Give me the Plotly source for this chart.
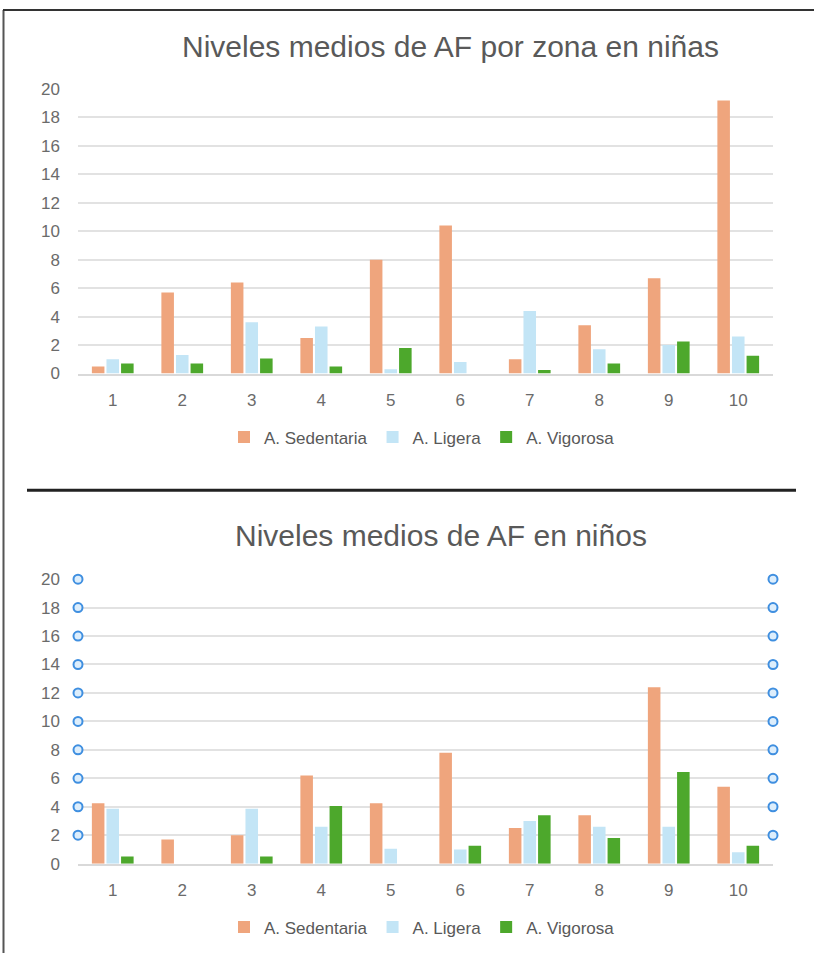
import plotly.graph_objects as go

zonas = ["1", "2", "3", "4", "5", "6", "7", "8", "9", "10"]
series_names = ["A. Sedentaria", "A. Ligera", "A. Vigorosa"]

ninas_sedentaria = [0.5, 5.7, 6.4, 2.5, 8.0, 10.4, 1.0, 3.4, 6.7, 19.2]
ninas_ligera = [1.0, 1.3, 3.6, 3.3, 0.3, 0.8, 4.4, 1.7, 2.0, 2.6]
ninas_vigorosa = [0.7, 0.7, 1.05, 0.5, 1.8, 0.0, 0.25, 0.7, 2.25, 1.25]

ninos_sedentaria = [4.25, 1.7, 2.0, 6.2, 4.25, 7.8, 2.5, 3.4, 12.4, 5.4]
ninos_ligera = [3.85, 0.0, 3.85, 2.6, 1.05, 1.0, 3.0, 2.6, 2.6, 0.8]
ninos_vigorosa = [0.5, 0.0, 0.5, 4.05, 0.0, 1.25, 3.4, 1.8, 6.45, 1.25]

y_ticks = [0, 2, 4, 6, 8, 10, 12, 14, 16, 18, 20]
handle_ticks = y_ticks[1:]

colors = ["#EFA57D", "#C3E5F6", "#4DA82C"]

W, H = 814, 963
TOP_PAD = 8      # page offset above the figure seen in the final picture
VSCALE = 0.982   # vertical compression seen in the final picture
FONT = "Liberation Sans, Arial, Helvetica, sans-serif"

fig = go.Figure()

top = [ninas_sedentaria, ninas_ligera, ninas_vigorosa]
bot = [ninos_sedentaria, ninos_ligera, ninos_vigorosa]

for name, vals, c in zip(series_names, top, colors):
    fig.add_trace(go.Bar(x=zonas, y=vals, name=name, marker=dict(color=c, line=dict(width=0)),
                         xaxis="x", yaxis="y", legend="legend"))
for name, vals, c in zip(series_names, bot, colors):
    fig.add_trace(go.Bar(x=zonas, y=vals, name=name, marker=dict(color=c, line=dict(width=0)),
                         xaxis="x2", yaxis="y2", legend="legend2"))

# selection handles at the chart edges (bottom chart)
for xv in [0, 1]:
    fig.add_trace(go.Scatter(x=[xv] * len(handle_ticks), y=handle_ticks, mode="markers",
                             marker=dict(symbol="circle", size=9, color="#DDEEFC",
                                         line=dict(color="#3F8FE0", width=2)),
                             xaxis="x3", yaxis="y2", showlegend=False, hoverinfo="skip",
                             cliponaxis=False))

def px_x(p):
    return p / W

def px_y(p):
    fy = p / VSCALE - TOP_PAD
    return min(1.0, max(0.0, 1 - fy / H))

xdom = [px_x(78), px_x(773)]
axis_common = dict(tickfont=dict(family=FONT, size=17, color="#6b6b6b"))
legend_font = dict(family=FONT, size=17, color="#595959")

fig.update_layout(
    width=W, height=H,
    margin=dict(l=0, r=0, t=0, b=0),
    paper_bgcolor="white", plot_bgcolor="white",
    barmode="group", bargap=0.37, bargroupgap=0.14,
    font=dict(family=FONT, color="#595959"),
    xaxis=dict(domain=xdom, anchor="y", type="category", showgrid=False, showline=True,
               linecolor="#d9d9d9", linewidth=1.5, ticks="", ticklabelstandoff=10, **axis_common),
    yaxis=dict(domain=[px_y(373), px_y(88)], anchor="x", range=[0, 20], tickvals=y_ticks,
               showgrid=True, gridcolor="#e2e2e2", gridwidth=1.5, zeroline=False, showline=False,
               ticks="", ticklabelstandoff=17, **axis_common),
    xaxis2=dict(domain=xdom, anchor="y2", type="category", showgrid=False, showline=True,
                linecolor="#d9d9d9", linewidth=1.5, ticks="", ticklabelstandoff=10, **axis_common),
    yaxis2=dict(domain=[px_y(864), px_y(579)], anchor="x2", range=[0, 20], tickvals=y_ticks,
                showgrid=True, gridcolor="#e2e2e2", gridwidth=1.5, zeroline=False, showline=False,
                ticks="", ticklabelstandoff=17, **axis_common),
    xaxis3=dict(domain=xdom, anchor="y2", overlaying="x2", range=[0, 1], visible=False),
    legend=dict(orientation="h", x=px_x(422), xanchor="center", y=px_y(437), yanchor="middle",
                font=legend_font, itemwidth=30, tracegroupgap=0, traceorder="normal"),
    legend2=dict(orientation="h", x=px_x(422), xanchor="center", y=px_y(928), yanchor="middle",
                 font=legend_font, itemwidth=30, tracegroupgap=0, traceorder="normal"),
    annotations=[
        dict(text="Niveles medios de AF por zona en niñas", x=px_x(450), y=px_y(45),
             xref="paper", yref="paper", showarrow=False, xanchor="center", yanchor="middle",
             font=dict(family=FONT, size=30, color="#595959")),
        dict(text="Niveles medios de AF en niños", x=px_x(441), y=px_y(535),
             xref="paper", yref="paper", showarrow=False, xanchor="center", yanchor="middle",
             font=dict(family=FONT, size=30, color="#595959")),
    ],
    shapes=[
        dict(type="line", xref="paper", yref="paper", x0=px_x(3.5), x1=px_x(3.5), y0=0, y1=0.999,
             line=dict(color="#555555", width=2)),
        dict(type="line", xref="paper", yref="paper", x0=px_x(3), x1=1, y0=0.999, y1=0.999,
             line=dict(color="#333333", width=2)),
        dict(type="line", xref="paper", yref="paper", x0=px_x(27), x1=px_x(796), y0=px_y(490), y1=px_y(490),
             line=dict(color="#222222", width=3)),
    ],
)

post = (
    "document.documentElement.style.margin='0';document.documentElement.style.padding='0';"
    "document.body.style.margin='0';document.body.style.padding='0';"
    "document.documentElement.style.overflow='hidden';document.body.style.overflow='hidden';"
)

fig.write_html("out.html", post_script=post, config={"displayModeBar": False})
